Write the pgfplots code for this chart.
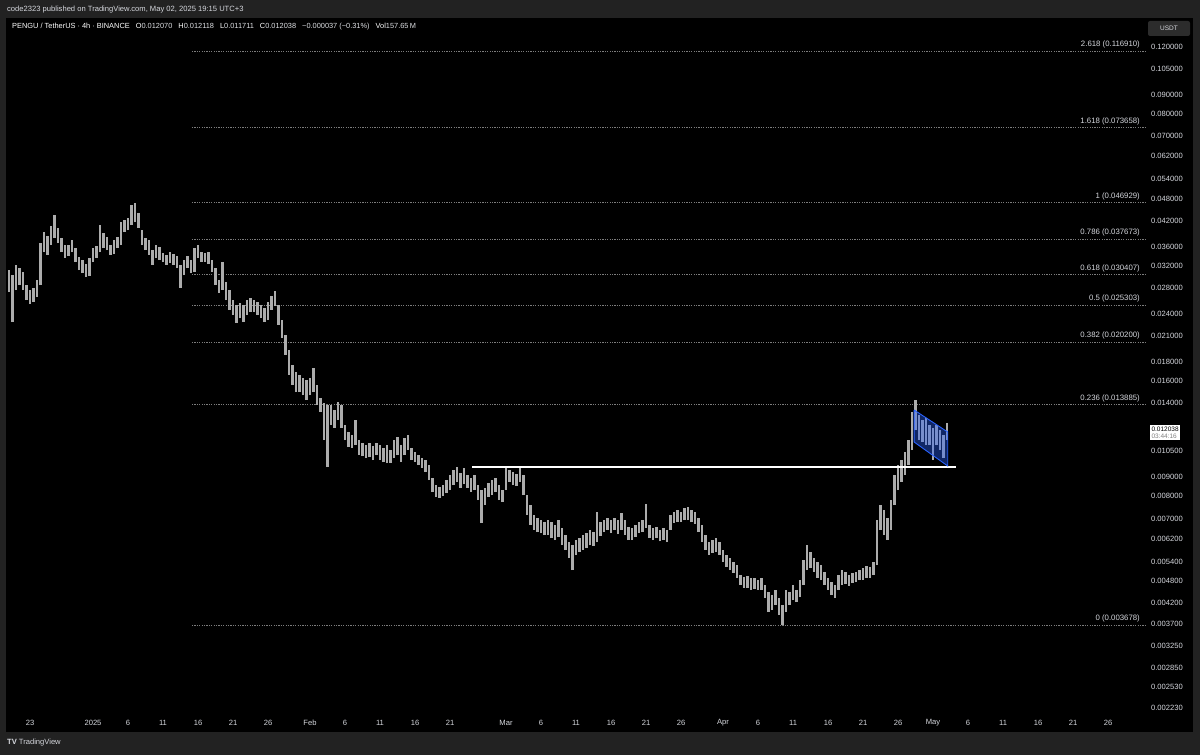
\documentclass[border=0pt]{standalone}
\usepackage{pgfplots}
\pgfplotsset{compat=1.18}
\usepackage{pgfplotstable}
\usepackage{fontspec}
\setmainfont{Liberation Sans}
\definecolor{frame}{RGB}{34,34,34}
\definecolor{candle}{RGB}{172,172,172}
\definecolor{txt}{RGB}{214,216,222}
\definecolor{fibc}{RGB}{125,125,125}
\definecolor{chan}{RGB}{41,98,255}
\definecolor{usdt}{RGB}{44,44,44}
\tikzset{
  fib/.style={draw=fibc, line width=0.7pt, dash pattern=on 1.2pt off 1.2pt},
  fiblab/.style={anchor=base east, yshift=4.5pt, inner sep=0pt, text=txt, font=\fontsize{7.8}{9}\selectfont},
}

\pgfplotstableread{
d lo hi
-12.0 0.02738 0.03126
-11.5 0.02285 0.03033
-11.0 0.02771 0.03222
-10.5 0.02856 0.03164
-10.0 0.02771 0.03089
-9.5 0.02609 0.02856
-9.0 0.02547 0.02771
-8.5 0.02578 0.02805
-8.0 0.02657 0.02943
-7.5 0.02856 0.03678
-7.0 0.03484 0.03931
-6.5 0.03422 0.03837
-6.0 0.03634 0.04074
-5.5 0.03791 0.04354
-5.0 0.03678 0.04026
-4.5 0.03484 0.03791
-4.0 0.03361 0.03634
-3.5 0.03401 0.03634
-3.0 0.03484 0.03745
-2.5 0.03280 0.03569
-2.0 0.03126 0.03381
-1.5 0.03070 0.03320
-1.0 0.02997 0.03241
-0.5 0.03015 0.03361
0.0 0.03280 0.03569
0.5 0.03361 0.03612
1.0 0.03484 0.04099
1.5 0.03569 0.03907
2.0 0.03526 0.03814
2.5 0.03422 0.03634
3.0 0.03442 0.03745
3.5 0.03569 0.03814
4.0 0.03634 0.04174
4.5 0.03931 0.04224
5.0 0.03978 0.04276
5.5 0.04099 0.04624
6.0 0.04174 0.04680
6.5 0.04026 0.04407
7.0 0.03634 0.03978
7.5 0.03526 0.03791
8.0 0.03422 0.03745
8.5 0.03222 0.03526
9.0 0.03361 0.03634
9.5 0.03320 0.03591
10.0 0.03280 0.03463
10.5 0.03222 0.03422
11.0 0.03261 0.03484
11.5 0.03222 0.03442
12.0 0.03164 0.03401
12.5 0.02805 0.03222
13.0 0.03033 0.03320
13.5 0.03164 0.03401
14.0 0.03070 0.03320
14.5 0.03089 0.03569
15.0 0.03361 0.03634
15.5 0.03280 0.03484
16.0 0.03280 0.03463
16.5 0.03241 0.03484
17.0 0.03089 0.03320
17.5 0.02856 0.03164
18.0 0.02721 0.02943
18.5 0.02771 0.03280
19.0 0.02609 0.02908
19.5 0.02457 0.02771
20.0 0.02384 0.02609
20.5 0.02272 0.02532
21.0 0.02341 0.02562
21.5 0.02285 0.02532
22.0 0.02384 0.02609
22.5 0.02428 0.02641
23.0 0.02428 0.02609
23.5 0.02384 0.02578
24.0 0.02341 0.02532
24.5 0.02285 0.02487
25.0 0.02313 0.02578
25.5 0.02457 0.02673
26.0 0.02517 0.02754
26.5 0.02245 0.02532
27.0 0.02075 0.02313
27.5 0.01874 0.02113
28.0 0.01661 0.01931
28.5 0.01564 0.01764
29.0 0.01499 0.01692
29.5 0.01499 0.01661
30.0 0.01472 0.01631
30.5 0.01428 0.01612
31.0 0.01472 0.01631
31.5 0.01499 0.01732
32.0 0.01386 0.01564
32.5 0.01329 0.01446
33.0 0.01122 0.01402
33.5 0.00954 0.01386
34.0 0.01229 0.01386
34.5 0.01207 0.01345
35.0 0.01266 0.01411
35.5 0.01207 0.01386
36.0 0.01122 0.01229
36.5 0.01076 0.01178
37.0 0.01070 0.01157
37.5 0.01089 0.01266
38.0 0.01025 0.01122
38.5 0.01019 0.01102
39.0 0.01007 0.01089
39.5 0.01013 0.01102
40.0 0.00995 0.01082
40.5 0.01025 0.01102
41.0 0.00995 0.01089
41.5 0.00983 0.01070
42.0 0.00977 0.01089
42.5 0.00977 0.01057
43.0 0.01007 0.01122
43.5 0.01025 0.01143
44.0 0.00983 0.01089
44.5 0.01025 0.01136
45.0 0.01057 0.01157
45.5 0.00995 0.01070
46.0 0.00983 0.01044
46.5 0.00965 0.01025
47.0 0.00948 0.01007
47.5 0.00926 0.00995
48.0 0.00882 0.00965
48.5 0.00820 0.00893
49.0 0.00796 0.00856
49.5 0.00792 0.00846
50.0 0.00801 0.00856
50.5 0.00815 0.00882
51.0 0.00830 0.00909
51.5 0.00856 0.00937
52.0 0.00872 0.00954
52.5 0.00841 0.00920
53.0 0.00861 0.00948
53.5 0.00841 0.00909
54.0 0.00820 0.00893
54.5 0.00830 0.00909
55.0 0.00782 0.00856
55.5 0.00681 0.00830
56.0 0.00759 0.00841
56.5 0.00796 0.00866
57.0 0.00806 0.00882
57.5 0.00820 0.00893
58.0 0.00782 0.00856
58.5 0.00773 0.00830
59.0 0.00830 0.00948
59.5 0.00872 0.00937
60.0 0.00856 0.00926
60.5 0.00851 0.00915
61.0 0.00872 0.00948
61.5 0.00806 0.00909
62.0 0.00714 0.00806
62.5 0.00673 0.00759
63.0 0.00653 0.00714
63.5 0.00645 0.00701
64.0 0.00641 0.00693
64.5 0.00633 0.00685
65.0 0.00633 0.00693
65.5 0.00622 0.00685
66.0 0.00614 0.00673
66.5 0.00625 0.00693
67.0 0.00596 0.00661
67.5 0.00579 0.00633
68.0 0.00551 0.00607
68.5 0.00513 0.00596
69.0 0.00561 0.00614
69.5 0.00572 0.00622
70.0 0.00579 0.00633
70.5 0.00585 0.00641
71.0 0.00596 0.00653
71.5 0.00592 0.00645
72.0 0.00607 0.00727
72.5 0.00629 0.00685
73.0 0.00645 0.00693
73.5 0.00653 0.00701
74.0 0.00641 0.00693
74.5 0.00653 0.00701
75.0 0.00637 0.00693
75.5 0.00653 0.00723
76.0 0.00633 0.00693
76.5 0.00614 0.00665
77.0 0.00614 0.00661
77.5 0.00625 0.00673
78.0 0.00641 0.00685
78.5 0.00645 0.00693
79.0 0.00661 0.00763
79.5 0.00622 0.00673
80.0 0.00614 0.00661
80.5 0.00622 0.00665
81.0 0.00610 0.00653
81.5 0.00614 0.00661
82.0 0.00607 0.00653
82.5 0.00653 0.00714
83.0 0.00681 0.00727
83.5 0.00685 0.00736
84.0 0.00685 0.00727
84.5 0.00693 0.00745
85.0 0.00693 0.00750
85.5 0.00685 0.00736
86.0 0.00677 0.00727
86.5 0.00645 0.00701
87.0 0.00607 0.00673
87.5 0.00579 0.00633
88.0 0.00561 0.00607
88.5 0.00569 0.00614
89.0 0.00572 0.00622
89.5 0.00561 0.00607
90.0 0.00539 0.00579
90.5 0.00523 0.00561
91.0 0.00513 0.00551
91.5 0.00504 0.00539
92.0 0.00489 0.00529
92.5 0.00469 0.00498
93.0 0.00461 0.00492
93.5 0.00461 0.00495
94.0 0.00455 0.00489
94.5 0.00458 0.00489
95.0 0.00455 0.00483
95.5 0.00455 0.00489
96.0 0.00433 0.00469
96.5 0.00398 0.00450
97.0 0.00403 0.00441
97.5 0.00416 0.00455
98.0 0.00391 0.00433
98.5 0.003678 0.00416
99.0 0.00398 0.00455
99.5 0.00416 0.00450
100.0 0.00428 0.00469
100.5 0.00423 0.00455
101.0 0.00436 0.00483
101.5 0.00469 0.00545
102.0 0.00513 0.00596
102.5 0.00520 0.00572
103.0 0.00507 0.00551
103.5 0.00489 0.00539
104.0 0.00483 0.00529
104.5 0.00469 0.00507
105.0 0.00455 0.00489
105.5 0.00441 0.00477
106.0 0.00433 0.00469
106.5 0.00455 0.00498
107.0 0.00469 0.00513
107.5 0.00472 0.00507
108.0 0.00466 0.00498
108.5 0.00474 0.00504
109.0 0.00477 0.00507
109.5 0.00483 0.00513
110.0 0.00483 0.00520
110.5 0.00489 0.00526
111.0 0.00489 0.00523
111.5 0.00498 0.00539
112.0 0.00529 0.00693
112.5 0.00653 0.00759
113.0 0.00633 0.00736
113.5 0.00614 0.00701
114.0 0.00653 0.00782
114.5 0.00759 0.00909
115.0 0.00830 0.00965
115.5 0.00872 0.00995
116.0 0.00909 0.01044
116.5 0.00965 0.01122
117.0 0.01057 0.01329
117.5 0.01192 0.01428
118.0 0.01122 0.01305
118.5 0.01109 0.01266
119.0 0.01089 0.01282
119.5 0.01089 0.01229
120.0 0.00995 0.01207
120.5 0.01089 0.01229
121.0 0.01057 0.01192
121.5 0.01007 0.01157
122.0 0.01122 0.01243
}\candles

\begin{document}
\begin{tikzpicture}[x=1pt,y=1pt]
\useasboundingbox (0,0) rectangle (1200,755);
\fill[frame] (0,0) rectangle (1200,755);
\fill[black] (6,23) rectangle (1193,737);
\node[anchor=west, inner sep=0pt, text=txt, font=\fontsize{7.6}{9}\selectfont] at (7,745)
  {code2323 published on TradingView.com, May 02, 2025 19:15 UTC+3};
\node[anchor=west, inner sep=0pt, text=white, font=\fontsize{7.4}{9}\selectfont] at (12,728)
  {PENGU / TetherUS · 4h · BINANCE\hspace{6pt}O\textcolor{txt!80}{0.012070}\hspace{6pt}H\textcolor{txt!80}{0.012118}\hspace{6pt}L\textcolor{txt!80}{0.011711}\hspace{6pt}C\textcolor{txt!80}{0.012038}\hspace{6pt}\textcolor{txt!80}{−0.000037 (−0.31\%)}\hspace{6pt}Vol\textcolor{txt!80}{157.65\,M}};
\node[anchor=west, inner sep=0pt, text=txt, font=\fontsize{7.6}{9}\selectfont] at (7,12)
  {\textbf{TV}\hspace{2pt}TradingView};
\fill[usdt, rounded corners=2pt] (1148,719) rectangle (1190,734);
\node[text=txt, font=\fontsize{6.5}{8}\selectfont] at (1169,726.5) {USDT};

\begin{axis}[
  at={(6pt,42pt)}, anchor=south west,
  scale only axis, width=1141pt, height=695pt,
  xmin=-12.43, xmax=150.57,
  ymode=log, ymin=0.0021677, ymax=0.14265,
  axis line style={draw=none},
  tick style={draw=none},
  clip=false,
  xtick={-9,0,5,10,15,20,25,31,36,41,46,51,59,64,69,74,79,84,90,95,100,105,110,115,120,125,130,135,140,145},
  xticklabels={23,2025,6,11,16,21,26,Feb,6,11,16,21,Mar,6,11,16,21,26,Apr,6,11,16,21,26,May,6,11,16,21,26},
  ytick={0.12,0.105,0.09,0.08,0.07,0.062,0.054,0.048,0.042,0.036,0.032,0.028,0.024,0.021,0.018,0.016,0.014,0.0105,0.009,0.008,0.007,0.0062,0.0054,0.0048,0.0042,0.0037,0.00325,0.00285,0.00253,0.00223},
  yticklabels={0.120000,0.105000,0.090000,0.080000,0.070000,0.062000,0.054000,0.048000,0.042000,0.036000,0.032000,0.028000,0.024000,0.021000,0.018000,0.016000,0.014000,0.010500,0.009000,0.008000,0.007000,0.006200,0.005400,0.004800,0.004200,0.003700,0.003250,0.002850,0.002530,0.002230},
  yticklabel pos=right,
  xticklabel style={font=\fontsize{7.6}{9}\selectfont, text=txt, anchor=center, yshift=-10pt},
  yticklabel style={font=\fontsize{7.6}{9}\selectfont, text=txt, anchor=west, xshift=0.5pt},
  /pgf/number format/assume math mode=true,
]
% Fibonacci levels
\addplot[fib, forget plot] coordinates {(14.14,0.116910) (150.57,0.116910)};
\addplot[fib, forget plot] coordinates {(14.14,0.073658) (150.57,0.073658)};
\addplot[fib, forget plot] coordinates {(14.14,0.046929) (150.57,0.046929)};
\addplot[fib, forget plot] coordinates {(14.14,0.037673) (150.57,0.037673)};
\addplot[fib, forget plot] coordinates {(14.14,0.030407) (150.57,0.030407)};
\addplot[fib, forget plot] coordinates {(14.14,0.025303) (150.57,0.025303)};
\addplot[fib, forget plot] coordinates {(14.14,0.020200) (150.57,0.020200)};
\addplot[fib, forget plot] coordinates {(14.14,0.013885) (150.57,0.013885)};
\addplot[fib, forget plot] coordinates {(14.14,0.003678) (150.57,0.003678)};
\node[fiblab] at (axis cs:149.57,0.116910) {2.618 (0.116910)};
\node[fiblab] at (axis cs:149.57,0.073658) {1.618 (0.073658)};
\node[fiblab] at (axis cs:149.57,0.046929) {1 (0.046929)};
\node[fiblab] at (axis cs:149.57,0.037673) {0.786 (0.037673)};
\node[fiblab] at (axis cs:149.57,0.030407) {0.618 (0.030407)};
\node[fiblab] at (axis cs:149.57,0.025303) {0.5 (0.025303)};
\node[fiblab] at (axis cs:149.57,0.020200) {0.382 (0.020200)};
\node[fiblab] at (axis cs:149.57,0.013885) {0.236 (0.013885)};
\node[fiblab] at (axis cs:149.57,0.003678) {0 (0.003678)};
% candles (high-low bars)
\addplot[draw=none, mark=none, forget plot,
  error bars/.cd, y dir=plus, y explicit, error mark=none,
  error bar style={draw=candle, line width=2.6pt}]
  table[x=d, y=lo, y error plus expr=\thisrow{hi}-\thisrow{lo}] {\candles};
% support line
\addplot[white, line width=1.8pt, forget plot] coordinates {(54.2,0.00956) (123.3,0.00956)};
% channel
\addplot[draw=chan, line width=0.9pt, fill=chan, fill opacity=0.4, forget plot]
  coordinates {(117.3,0.01345) (122.1,0.01178) (122.1,0.00960) (117.3,0.01109) (117.3,0.01345)};
% last price label
\node[anchor=west, fill=white, text=black, inner sep=1.3pt, align=left,
  font=\fontsize{6.5}{7.3}\selectfont, xshift=3pt, yshift=-4pt]
  at (axis cs:150.57,0.012038) {0.012038\\\textcolor{gray}{03:44:16}};
\end{axis}
\end{tikzpicture}
\end{document}
